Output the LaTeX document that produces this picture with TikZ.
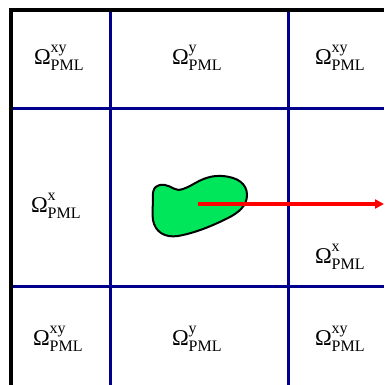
\documentclass[tikz,border=0pt]{standalone}
\usepackage{fontspec}
\setmainfont{Liberation Serif}
\usetikzlibrary{arrows.meta}
\definecolor{gridnavy}{RGB}{0,0,140}
\definecolor{blobgreen}{RGB}{0,230,90}
\newcommand{\pmllabel}[1]{\fontsize{22.5}{22.5}\selectfont Ω\rlap{\raisebox{12pt}{\fontsize{16}{16}\selectfont #1}}\raisebox{-6pt}{\fontsize{16}{16}\selectfont PML}}
\tikzset{
  border/.style={line width=4pt, black},
  gridline/.style={line width=3pt, gridnavy},
  lbl/.style={anchor=base west, inner sep=0pt, outer sep=0pt},
  blob/.style={draw=black, line width=2pt, fill=blobgreen},
  ray/.style={red, line width=3.5pt, -{Triangle[length=9pt,width=9pt]}}
}
\begin{document}
\begin{tikzpicture}[x=1pt,y=-1pt]
\useasboundingbox (0,0) rectangle (384,385);
% grid
\draw[gridline] (110,10) -- (110,385);
\draw[gridline] (288,10) -- (288,385);
\draw[gridline] (10,109) -- (384,109);
\draw[gridline] (10,286) -- (384,286);
% outer border
\draw[border] (11,385) -- (11,10) -- (384,10);
% blob
\draw[blob] (153,198) .. controls (152,187) and (157,184) .. (165,185)
  .. controls (172,186) and (175,192) .. (183,189)
  .. controls (195,185) and (203,175) .. (222,176)
  .. controls (238,177) and (247,184) .. (247,195)
  .. controls (247,206) and (238,213) .. (228,218)
  .. controls (212,226) and (195,233) .. (178,236)
  .. controls (165,238) and (155,232) .. (153,220)
  .. controls (152,212) and (153,205) .. (153,198) -- cycle;
% arrow
\coordinate (src) at (198,204);
\coordinate (dst) at (384,204);
\draw[ray] (src) -- (dst);
% labels
\node[lbl] (l11) at (34,65) {\pmllabel{xy}};
\node[lbl] (l12) at (172,65) {\pmllabel{y}};
\node[lbl] (l13) at (315,65) {\pmllabel{xy}};
\node[lbl] (l21) at (31,212) {\pmllabel{x}};
\node[lbl] (l23) at (315,263) {\pmllabel{x}};
\node[lbl] (l31) at (33,345) {\pmllabel{xy}};
\node[lbl] (l32) at (172,345) {\pmllabel{y}};
\node[lbl] (l33) at (315,345) {\pmllabel{xy}};
\end{tikzpicture}
\end{document}
